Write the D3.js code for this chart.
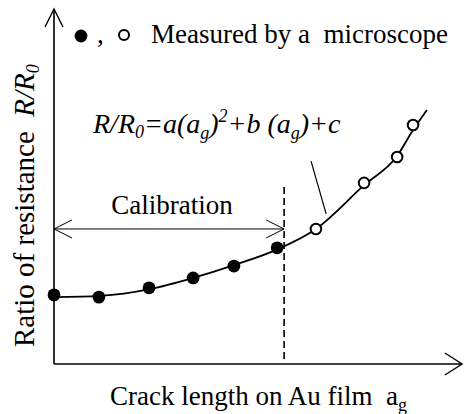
<!DOCTYPE html>
<html>
<head>
<meta charset="utf-8">
<script src="https://cdn.jsdelivr.net/npm/d3@7"></script>
<style>
  html, body { margin: 0; padding: 0; background: #fff; }
  svg { display: block; }
  svg text { fill: #000; white-space: pre; }
</style>
</head>
<body>
<svg id="chart" width="472" height="414"></svg>
<script>
// Crack length (arbitrary units) and resistance ratio R/R0 of the calibration points
const calibX = [0, 1.10, 2.33, 3.41, 4.41, 5.47];
const calibY = [1.016, 1.009, 1.038, 1.069, 1.106, 1.163];
// Further points measured by a microscope
const measX = [6.42, 7.60, 8.41, 8.80];
const measY = [1.222, 1.366, 1.447, 1.547];

// Fitted curve R/R0 = a(ag)^2 + b(ag) + c, traced along crack length
const fitX = [0, 1.13, 2.35, 3.41, 4.41, 5.49, 6.42, 7.60, 8.41, 8.80, 9.14];
const fitY = [1.009, 1.013, 1.034, 1.069, 1.109, 1.159, 1.222, 1.359, 1.450, 1.531, 1.594];

// End of the calibration range
const calibEnd = 5.64;
const calibArrowY = 1.222;
const calibLineTop = 1.353;

// Leader from the equation to the curve
const leaderX = [6.30, 6.67];
const leaderY = [1.434, 1.269];

const FONT = "Liberation Serif";
const FS = 27, SUB = 18;

const svg = d3.select("#chart");
const x = d3.scaleLinear().domain([0, 10]).range([54, 462]);
const y = d3.scaleLinear().domain([0.8, 1.9]).range([364, 12]);

const x0 = x(0), yBase = y(0.8);

const label = (sel) => sel.append("text").attr("font-family", FONT).attr("font-size", FS);

// Axes with open arrow heads
const axes = svg.append("g").attr("stroke", "#000").attr("fill", "none");
axes.append("line").attr("x1", x0).attr("y1", yBase).attr("x2", x0).attr("y2", 10).attr("stroke-width", 1.6);
axes.append("polyline").attr("points", `${x0 - 9},27 ${x0},9 ${x0 + 9},27`).attr("stroke-width", 1.4);
axes.append("line").attr("x1", x0).attr("y1", yBase).attr("x2", 461).attr("y2", yBase).attr("stroke-width", 1.6);
axes.append("polyline").attr("points", `445,${yBase - 11} 462,${yBase} 445,${yBase + 11}`).attr("stroke-width", 1.4);

// Dashed boundary of the calibration range
svg.append("line")
  .attr("x1", x(calibEnd)).attr("x2", x(calibEnd))
  .attr("y1", y(calibLineTop)).attr("y2", yBase - 2)
  .attr("stroke", "#000").attr("stroke-width", 1.6).attr("stroke-dasharray", "7,4");

// Calibration double arrow
const ay = y(calibArrowY);
const cal = svg.append("g").attr("stroke", "#000").attr("fill", "none").attr("stroke-width", 1);
cal.append("line").attr("x1", x0).attr("x2", x(calibEnd)).attr("y1", ay).attr("y2", ay);
cal.append("polyline").attr("points", `${x0 + 18},${ay - 9} ${x0},${ay} ${x0 + 18},${ay + 9}`);
cal.append("polyline").attr("points", `${x(calibEnd) - 18},${ay - 9} ${x(calibEnd)},${ay} ${x(calibEnd) - 18},${ay + 9}`);
label(svg).attr("x", 172).attr("y", 214).attr("text-anchor", "middle").text("Calibration");

// Fitted curve
const fitPts = fitX.map((d, i) => [d, fitY[i]]);
svg.append("path").datum(fitPts)
  .attr("d", d3.line().x(d => x(d[0])).y(d => y(d[1])).curve(d3.curveMonotoneX))
  .attr("fill", "none").attr("stroke", "#000").attr("stroke-width", 1.8);

// Leader line
svg.append("line")
  .attr("x1", x(leaderX[0])).attr("y1", y(leaderY[0]))
  .attr("x2", x(leaderX[1])).attr("y2", y(leaderY[1]))
  .attr("stroke", "#000").attr("stroke-width", 1.2);

// Calibration points (filled)
svg.append("g").selectAll("circle").data(calibX).join("circle")
  .attr("cx", d => x(d)).attr("cy", (d, i) => y(calibY[i])).attr("r", 6.4).attr("fill", "#000");

// Points measured by a microscope (open)
svg.append("g").selectAll("circle").data(measX).join("circle")
  .attr("cx", d => x(d)).attr("cy", (d, i) => y(measY[i])).attr("r", 5.3)
  .attr("fill", "#fff").attr("stroke", "#000").attr("stroke-width", 2);

// Legend
svg.append("circle").attr("cx", 81).attr("cy", 36).attr("r", 6.4).attr("fill", "#000");
label(svg).attr("x", 97).attr("y", 43).text(",");
svg.append("circle").attr("cx", 124).attr("cy", 35).attr("r", 5).attr("fill", "#fff").attr("stroke", "#000").attr("stroke-width", 2);
label(svg).attr("x", 151).attr("y", 43).text("Measured by a  microscope");

// Equation
const eq = label(svg).attr("x", 93).attr("y", 133).attr("font-size", 28).attr("font-style", "italic");
eq.append("tspan").text("R/R");
eq.append("tspan").attr("font-size", SUB).attr("dy", 5).text("0");
eq.append("tspan").attr("dy", -5).text("=a(a");
eq.append("tspan").attr("font-size", SUB).attr("dy", 6).text("g");
eq.append("tspan").attr("dy", -6).text(")");
eq.append("tspan").attr("font-size", SUB).attr("dy", -11).text("2");
eq.append("tspan").attr("dy", 11).text("+b (a");
eq.append("tspan").attr("font-size", SUB).attr("dy", 6).text("g");
eq.append("tspan").attr("dy", -6).text(")+c");

// Y axis title
const yt = label(svg).attr("transform", "translate(34,347) rotate(-90)").attr("font-size", 29);
yt.append("tspan").text("Ratio of resistance  ");
yt.append("tspan").attr("font-style", "italic").text("R/R");
yt.append("tspan").attr("font-style", "italic").attr("font-size", SUB).attr("dy", 5).text("0");

// X axis title
const xt = label(svg).attr("x", 110).attr("y", 405);
xt.append("tspan").text("Crack length on Au film  a");
xt.append("tspan").attr("font-size", SUB).attr("dy", 6).text("g");
</script>
</body>
</html>
